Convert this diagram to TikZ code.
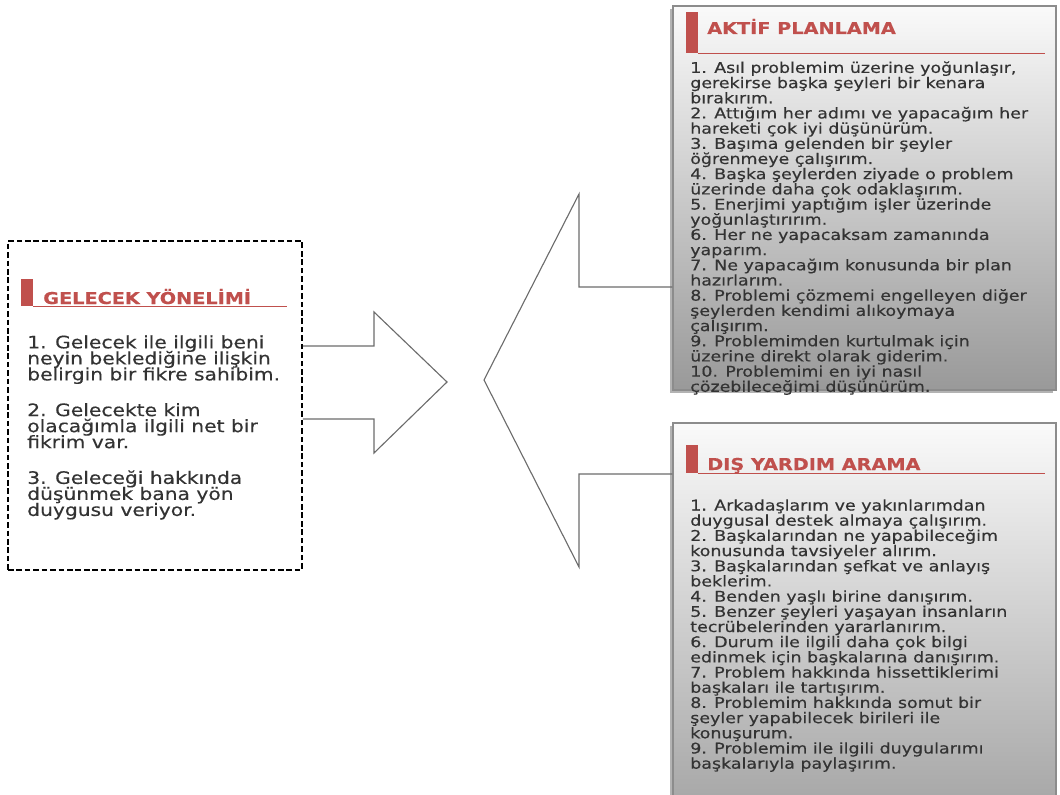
\documentclass[tikz,border=0pt]{standalone}
\usepackage{fontspec}
\setmainfont{DejaVu Sans}
\newfontfamily\comic[FakeStretch=1.18, FakeBold=0.4]{DejaVu Sans}
\usepackage{tikz}
\usetikzlibrary{fit,shadows}
\definecolor{titlered}{HTML}{C0504D}
\definecolor{textgray}{HTML}{333333}
\definecolor{framegray}{HTML}{8C8C8C}
\newcommand{\boxtitle}[1]{{\comic\bfseries\fontsize{11.6}{13}\selectfont #1}}
\newcommand{\itemfont}{\comic\fontsize{10.5}{10.8}\selectfont\setlength{\lineskiplimit}{-20pt}}
\newcommand{\bigitemfont}{\comic\fontsize{12.2}{11.4}\selectfont\setlength{\lineskiplimit}{-20pt}}

\tikzset{
  dashbox/.style={draw=black, line width=1.2pt, dash pattern=on 4pt off 2pt, inner sep=0pt},
  gradbox/.style={draw=framegray, line width=0.8pt, inner sep=0pt,
    top color=white!96!gray, bottom color=#1,
    drop shadow={shadow xshift=-2pt, shadow yshift=-2pt, opacity=0.6}},
  blockarrow/.style={draw=gray!85!black, line width=0.8pt, line join=miter},
  redline/.style={draw=titlered, line width=0.7pt},
  itemtext/.style={anchor=north west, inner sep=0pt, align=left, text=textgray,
    font=\itemfont},
  bigitemtext/.style={itemtext, font=\bigitemfont},
  titletext/.style={anchor=base west, inner sep=0pt, text=titlered}
}

\begin{document}
\begin{tikzpicture}[x=0.025cm, y=-0.025cm]
  \useasboundingbox (0,0) rectangle (1060,795);

  % gelecek yonelimi
  \node[dashbox, fit={(8,241) (302,570)}] (gelecek) {};
  \fill[titlered] (21,279) rectangle (33,306);
  \draw[redline] (33,306) -- (287,306);
  \node[titletext] (gtitle) at (43,304) {\boxtitle{GELECEK YÖNELİMİ}};
  \node[bigitemtext] (gitems) at (27,335) {%
    1. Gelecek ile ilgili beni\\
    neyin beklediğine ilişkin\\
    belirgin bir fikre sahibim.\\[14pt]
    2. Gelecekte kim\\
    olacağımla ilgili net bir\\
    fikrim var.\\[14pt]
    3. Geleceği hakkında\\
    düşünmek bana yön\\
    duygusu veriyor.};

  % aktif planlama
  \node[gradbox=gray!80, fit={(673,6) (1056,390)}] (aktif) {};
  \fill[titlered] (686,12) rectangle (698,53);
  \draw[redline] (698,53) -- (1045,53);
  \node[titletext] (atitle) at (707,34) {\boxtitle{AKTİF PLANLAMA}};
  \node[itemtext] (aitems) at (690,61) {%
    1. Asıl problemim üzerine yoğunlaşır,\\
    gerekirse başka şeyleri bir kenara\\
    bırakırım.\\
    2. Attığım her adımı ve yapacağım her\\
    hareketi çok iyi düşünürüm.\\
    3. Başıma gelenden bir şeyler\\
    öğrenmeye çalışırım.\\
    4. Başka şeylerden ziyade o problem\\
    üzerinde daha çok odaklaşırım.\\
    5. Enerjimi yaptığım işler üzerinde\\
    yoğunlaştırırım.\\
    6. Her ne yapacaksam zamanında\\
    yaparım.\\
    7. Ne yapacağım konusunda bir plan\\
    hazırlarım.\\
    8. Problemi çözmemi engelleyen diğer\\
    şeylerden kendimi alıkoymaya\\
    çalışırım.\\
    9. Problemimden kurtulmak için\\
    üzerine direkt olarak giderim.\\
    10. Problemimi en iyi nasıl\\
    çözebileceğimi düşünürüm.};

  % dis yardim arama
  \node[gradbox=gray!70, fit={(673,423) (1056,810)}] (dis) {};
  \fill[titlered] (686,445) rectangle (698,473);
  \draw[redline] (698,473) -- (1045,473);
  \node[titletext] (dtitle) at (707,470) {\boxtitle{DIŞ YARDIM ARAMA}};
  \node[itemtext] (ditems) at (690,499) {%
    1. Arkadaşlarım ve yakınlarımdan\\
    duygusal destek almaya çalışırım.\\
    2. Başkalarından ne yapabileceğim\\
    konusunda tavsiyeler alırım.\\
    3. Başkalarından şefkat ve anlayış\\
    beklerim.\\
    4. Benden yaşlı birine danışırım.\\
    5. Benzer şeyleri yaşayan insanların\\
    tecrübelerinden yararlanırım.\\
    6. Durum ile ilgili daha çok bilgi\\
    edinmek için başkalarına danışırım.\\
    7. Problem hakkında hissettiklerimi\\
    başkaları ile tartışırım.\\
    8. Problemim hakkında somut bir\\
    şeyler yapabilecek birileri ile\\
    konuşurum.\\
    9. Problemim ile ilgili duygularımı\\
    başkalarıyla paylaşırım.};

  % arrows
  \draw[blockarrow] (gelecek.east |- 0,346) -- (374,346) -- (374,312) -- (447,382)
    -- (374,453) -- (374,419) -- (gelecek.east |- 0,419);
  \draw[blockarrow] (aktif.west |- 0,287) -- (579,287) -- (579,194) -- (484,380)
    -- (579,567) -- (579,474) -- (dis.west |- 0,474);
\end{tikzpicture}
\end{document}
